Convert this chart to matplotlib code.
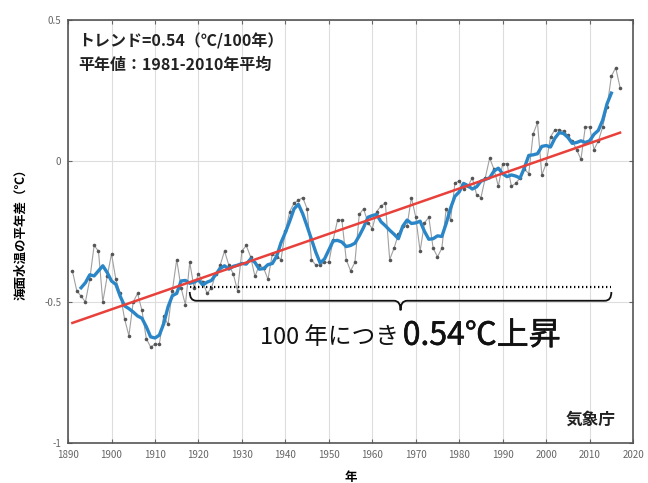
import numpy as np
import matplotlib.pyplot as plt
import matplotlib.patheffects as pe
from matplotlib.path import Path
from matplotlib.patches import PathPatch

plt.rcParams['font.family'] = ['Noto Sans CJK JP', 'DejaVu Sans']

# 年平均海面水温の平年差（1981-2010年平均からの差）
years = np.arange(1891, 2018)
anomaly = [
    -0.39, -0.46, -0.48, -0.50, -0.42, -0.30, -0.32, -0.50, -0.41,          # 1891-1899
    -0.33, -0.42, -0.47, -0.56, -0.62, -0.50, -0.47, -0.53, -0.63, -0.66,   # 1900-1909
    -0.65, -0.65, -0.55, -0.58, -0.46, -0.35, -0.45, -0.51, -0.36, -0.45,   # 1910-1919
    -0.40, -0.43, -0.47, -0.45, -0.40, -0.37, -0.32, -0.37, -0.40, -0.46,   # 1920-1929
    -0.32, -0.30, -0.34, -0.41, -0.37, -0.38, -0.42, -0.33, -0.34, -0.35,   # 1930-1939
    -0.25, -0.18, -0.15, -0.14, -0.13, -0.17, -0.35, -0.37, -0.37, -0.36,   # 1940-1949
    -0.36, -0.28, -0.21, -0.21, -0.35, -0.39, -0.36, -0.19, -0.17, -0.22,   # 1950-1959
    -0.24, -0.18, -0.16, -0.15, -0.35, -0.31, -0.26, -0.23, -0.23, -0.13,   # 1960-1969
    -0.20, -0.32, -0.22, -0.20, -0.31, -0.34, -0.31, -0.17, -0.21, -0.08,   # 1970-1979
    -0.07, -0.10, -0.09, -0.06, -0.12, -0.13, -0.06, 0.01, -0.03, -0.09,    # 1980-1989
    -0.01, -0.01, -0.09, -0.08, -0.06, -0.03, -0.045, 0.095, 0.136, -0.05,  # 1990-1999
    -0.01, 0.085, 0.11, 0.11, 0.105, 0.09, 0.07, 0.04, 0.005, 0.12,         # 2000-2009
    0.12, 0.04, 0.07, 0.12, 0.19, 0.30, 0.33, 0.26,                        # 2010-2017
]
anomaly = np.array(anomaly)

# 5年移動平均
window = 5
smooth = np.convolve(anomaly, np.ones(window) / window, mode='valid')
smooth_years = years[window // 2: -(window // 2)]

# 長期変化傾向（最小二乗法）
coef = np.polyfit(years, anomaly, 1)
trend = np.polyval(coef, years)

fig = plt.figure(figsize=(6.48, 4.83), dpi=100)
ax = fig.add_axes([0.105, 0.083, 0.872, 0.876])

ax.plot(years, anomaly, color='#a0a0a0', lw=0.8, zorder=2)
ax.plot(years, anomaly, 'o', color='#555555', ms=2.6, mew=0, zorder=3)
ax.plot(smooth_years, smooth, color='#2a86c6', lw=2.4, zorder=4)
ax.plot(years, trend, color='#e8403a', lw=1.8, zorder=5)

ax.set_xlim(1890, 2020)
ax.set_ylim(-1, 0.5)
ax.set_xticks(np.arange(1890, 2021, 10))
ax.set_yticks([-1, -0.5, 0, 0.5])
ax.set_yticklabels(['-1', '-0.5', '0', '0.5'])
ax.tick_params(direction='in', length=3, labelsize=7, colors='#666666',
               top=True, right=True, pad=5)
ax.grid(True, color='#dddddd', lw=0.8)
ax.set_axisbelow(True)
for s in ax.spines.values():
    s.set_color('#555555')
    s.set_linewidth(1.2)

ax.set_xlabel('年', fontsize=9, fontweight='bold', labelpad=8)
ax.set_ylabel('海面水温の平年差（℃）', fontsize=9, fontweight='bold', labelpad=12)

ax.text(0.018, 0.968, 'トレンド=0.54（℃/100年）', transform=ax.transAxes,
        fontsize=11.5, fontweight='bold', color='#222222', va='top')
ax.text(0.018, 0.913, '平年値：1981-2010年平均', transform=ax.transAxes,
        fontsize=11.5, fontweight='bold', color='#222222', va='top')
ax.text(0.968, 0.054, '気象庁', transform=ax.transAxes,
        fontsize=12, fontweight='bold', color='#222222', ha='right', va='center')

# 100年分を示す点線と括弧
x1, x2 = 1918, 2015
xm = (x1 + x2) / 2
ax.plot([x1, x2], [-0.447, -0.447], color='black', lw=1.6, ls=(0, (0.6, 1.2)),
        zorder=6)
yb, ye, yt = -0.496, -0.465, -0.53
verts = [(x1, ye), (x1, yb), (x1 + 1.5, yb),
         (xm - 1.5, yb), (xm, yb), (xm, yt),
         (xm, yb), (xm + 1.5, yb),
         (x2 - 1.5, yb), (x2, yb), (x2, ye)]
codes = [Path.MOVETO, Path.CURVE3, Path.CURVE3,
         Path.LINETO, Path.CURVE3, Path.CURVE3,
         Path.CURVE3, Path.CURVE3,
         Path.LINETO, Path.CURVE3, Path.CURVE3]
ax.add_patch(PathPatch(Path(verts, codes), fill=False, color='#111111', lw=1.3,
                       zorder=6))

ax.text(1966, -0.625, '100 年につき', fontsize=17, color='#111111',
        ha='right', va='center')
ax.text(1967, -0.62, '0.54℃上昇', fontsize=23, color='#111111',
        ha='left', va='center',
        path_effects=[pe.withStroke(linewidth=0.4, foreground='#111111')])

fig.savefig('out.png', dpi=100)
